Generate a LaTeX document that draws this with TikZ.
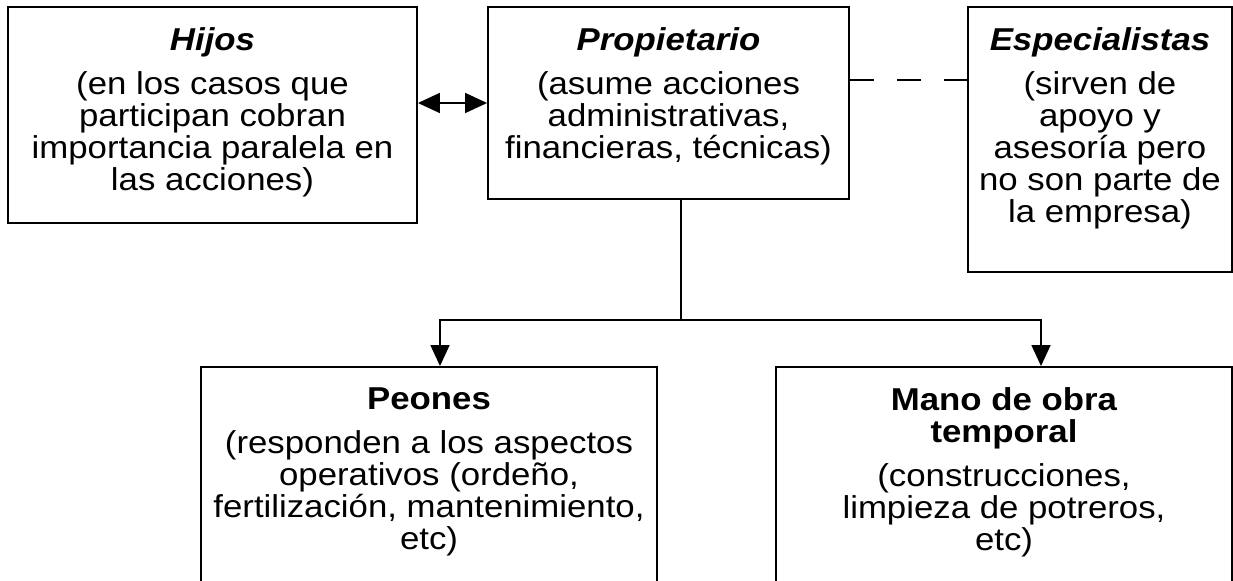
\documentclass[tikz,border=0pt]{standalone}
\usepackage{fontspec}
\setmainfont{Liberation Sans}[FakeStretch=1.1]
\usetikzlibrary{arrows.meta}
\newcommand{\boxtext}[3]{\parbox[c][#1][t]{#2}{\vspace*{0.41cm}\centering #3}}
\tikzset{
  box/.style={draw,line width=1.1pt,inner sep=0pt,
    font=\fontsize{18}{18.2}\selectfont},
  link/.style={line width=0.9pt},
  tip/.style={-{Triangle[length=0.42cm,width=0.38cm]}}
}
\begin{document}
\begin{tikzpicture}[x=0.02cm,y=-0.02cm]
\useasboundingbox (0,0) rectangle (1233,581);
\clip (0,0) rectangle (1233,581);
\node[box] (H) at (212.5,115) {\boxtext{4.32cm}{8.18cm}
  {\textbf{\textit{Hijos}}\\[7pt](en los casos que\\participan cobran\\importancia paralela en\\las acciones)}};
\node[box] (P) at (668.5,103) {\boxtext{3.84cm}{7.22cm}
  {\textbf{\textit{Propietario}}\\[7pt](asume acciones\\administrativas,\\financieras, técnicas)}};
\node[box] (E) at (1100,139.5) {\boxtext{5.3cm}{5.28cm}
  {\textbf{\textit{Especialistas}}\\[7pt](sirven de\\apoyo y\\asesoría pero\\no son parte de\\la empresa)}};
\node[box] (O) at (429,481) {\boxtext{4.56cm}{9.12cm}
  {\textbf{Peones}\\[7pt](responden a los aspectos\\operativos (ordeño,\\fertilización, mantenimiento,\\etc)}};
\node[box] (T) at (1004,481) {\boxtext{4.56cm}{9.12cm}
  {\textbf{Mano de obra}\\\textbf{temporal}\\[7pt](construcciones,\\limpieza de potreros,\\etc)}};
\coordinate (s) at (681,320);
\coordinate (a) at (0,103);
\coordinate (d) at (0,80);
\coordinate (l) at (440,0);
\coordinate (r) at (1041,0);
\draw[link,{Triangle[length=0.44cm,width=0.4cm]}-{Triangle[length=0.44cm,width=0.4cm]}]
  (H.east |- a) -- (P.west |- a);
\draw[link,dash pattern=on 0.48cm off 0.46cm] (P.east |- d) -- (E.west |- d);
\draw[link] (P.south -| s) -- (s);
\draw[link,tip] (s) -| (l |- O.north);
\draw[link,tip] (s) -| (r |- T.north);
\end{tikzpicture}
\end{document}
